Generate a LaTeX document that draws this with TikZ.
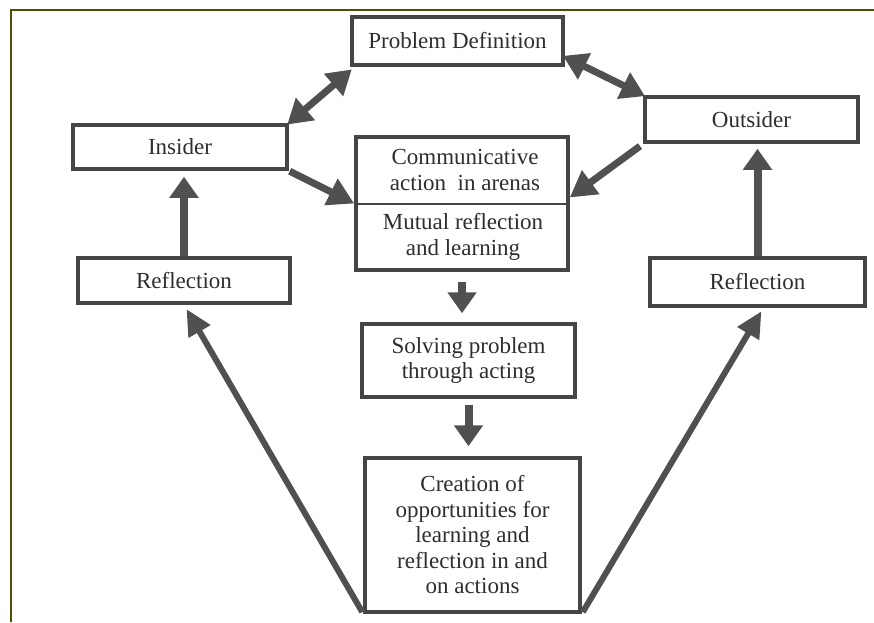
\documentclass[tikz,border=0pt]{standalone}
\usepackage{fontspec}
\setmainfont{Liberation Serif}
\usetikzlibrary{arrows.meta}
\definecolor{framecol}{HTML}{4F4F00}
\definecolor{boxcol}{HTML}{454545}
\definecolor{arrcol}{HTML}{505050}
\definecolor{txtcol}{HTML}{2E2E2E}
\begin{document}
\begin{tikzpicture}[x=1pt,y=-1pt,
  box/.style={draw=boxcol, line width=3.5pt, fill=white, text=txtcol, inner sep=0pt,
    align=center, font=\fontsize{23}{25.5}\selectfont},
  lbl/.style={text=txtcol, inner sep=0pt, align=center, font=\fontsize{23}{25.5}\selectfont},
  bigarrow/.style={draw=arrcol, line width=8pt, -{Triangle[length=21pt,width=28pt]}},
  dblarrow/.style={draw=arrcol, line width=7pt, {Triangle[length=24pt,width=28pt]}-{Triangle[length=24pt,width=28pt]}},
  diagarrow/.style={draw=arrcol, line width=7pt, -{Triangle[length=26pt,width=28pt]}},
  longarrow/.style={draw=arrcol, line width=6pt, -{Triangle[length=26pt,width=24pt]}},
  framestyle/.style={draw=framecol, line width=2pt}
]
\useasboundingbox[fill=white] (0,0) rectangle (874,622);
% outer frame (continues beyond the picture at right and bottom)
\coordinate (fbl) at (11,622);
\coordinate (ftl) at (11,10);
\coordinate (ftr) at (874,10);
\draw[framestyle] (fbl) -- (ftl) -- (ftr);

% boxes
\node[box, minimum width=211pt, minimum height=48pt] (pd) at (457.5,41) {Problem Definition};
\node[box, minimum width=214pt, minimum height=44pt] (ins) at (180,147) {Insider};
\node[box, minimum width=213pt, minimum height=45pt] (out) at (751.5,119.5) {Outsider};
\node[box, minimum width=212pt, minimum height=133pt] (comm) at (462,203.5) {};
\draw[draw=boxcol, line width=2pt] (comm.west) -- (comm.east);
\node[lbl] (commA) at (465,170) {Communicative\\action\ \ in arenas};
\node[lbl] (commB) at (463,237) {Mutual reflection\\and learning};
\node[box, minimum width=212pt, minimum height=45pt] (refL) at (184,280.5) {Reflection};
\node[box, minimum width=215pt, minimum height=48pt] (refR) at (757.5,282) {Reflection};
\node[box, minimum width=213pt, minimum height=73pt] (sol) at (468.5,360.5) {Solving problem\\through acting};
\node[box, minimum width=215pt, minimum height=154pt] (cre) at (472.5,535) {Creation of\\opportunities for\\learning and\\reflection in and\\on actions};

% connectors
\draw[dblarrow, shorten <=-2pt, shorten >=-2pt] ([yshift=-4pt]pd.south west) -- (ins.north east);
\draw[dblarrow, shorten <=-2pt, shorten >=-2pt] ([yshift=10pt]pd.south east) -- (out.north west);
\draw[diagarrow, shorten <=1pt] (ins.south east) -- (comm.west);
\draw[diagarrow, shorten <=4pt] (out.south west) -- ([yshift=6pt]comm.east);
\draw[bigarrow, shorten >=6pt] (refL.north) -- (refL.north |- ins.south);
\draw[bigarrow, shorten >=5pt] (refR.north) -- (refR.north |- out.south);
\draw[bigarrow, shorten <=10pt, shorten >=9pt] (comm.south) -- (comm.south |- sol.north);
\draw[bigarrow, shorten <=6pt, shorten >=10pt] (sol.south) -- (sol.south |- cre.north);
\draw[longarrow, shorten <=2pt, shorten >=5pt] (cre.south west) -- (refL.south);
\draw[longarrow, shorten <=2pt, shorten >=4pt] (cre.south east) -- ([xshift=6pt]refR.south);
\end{tikzpicture}
\end{document}
